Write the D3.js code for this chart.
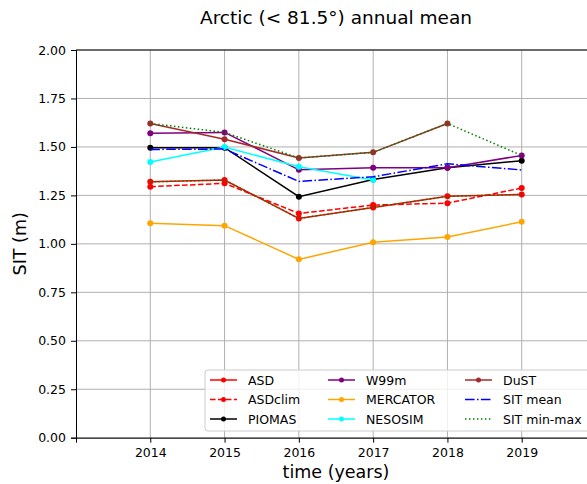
<!DOCTYPE html>
<html><head><meta charset="utf-8">
<script src="https://cdn.jsdelivr.net/npm/d3@7"></script>
<style>body{margin:0;background:#fff}svg{display:block;font-family:"DejaVu Sans",sans-serif}</style>
</head><body><svg id="c" width="587" height="484"></svg>
<script>
const years = [2014, 2015, 2016, 2017, 2018, 2019];
const yTicks = [0, 0.25, 0.5, 0.75, 1.0, 1.25, 1.5, 1.75, 2.0];
const ASD      = [1.320, 1.329, 1.131, 1.188, 1.245, 1.255];
const ASDclim  = [1.295, 1.312, 1.157, 1.200, 1.210, 1.288];
const PIOMAS   = [1.496, 1.496, 1.243, 1.332, 1.393, 1.429];
const W99m     = [1.571, 1.575, 1.382, 1.393, 1.393, 1.456];
const MERCATOR = [1.106, 1.094, 0.920, 1.008, 1.035, 1.114];
const NESOSIM  = [1.422, 1.499, 1.398, 1.329, null, null];
const DuST     = [1.621, 1.540, 1.443, 1.472, 1.621, null];
const SITmean  = [1.487, 1.489, 1.322, 1.346, 1.413, 1.381];
const SITmax   = [1.621, 1.575, 1.443, 1.472, 1.621, 1.456];
const SITmin   = [1.320, 1.329, 1.131, 1.188, 1.245, 1.255];

const series = [
  {name:"ASD", vals:ASD, color:"red", dash:null, marker:true},
  {name:"ASDclim", vals:ASDclim, color:"red", dash:"5.55,2.4", marker:true},
  {name:"PIOMAS", vals:PIOMAS, color:"black", dash:null, marker:true},
  {name:"W99m", vals:W99m, color:"purple", dash:null, marker:true},
  {name:"MERCATOR", vals:MERCATOR, color:"orange", dash:null, marker:true},
  {name:"NESOSIM", vals:NESOSIM, color:"cyan", dash:null, marker:true},
  {name:"DuST", vals:DuST, color:"brown", dash:null, marker:true},
  {name:"SIT mean", vals:SITmean, color:"blue", dash:"9.6,2.4,1.5,2.4", marker:false},
  {name:"SIT min-max", vals:SITmax, color:"green", dash:"1.5,2.475", marker:false},
];
const extra = {vals:SITmin, color:"green", dash:"1.5,2.475"};

const svg = d3.select("#c");
const L = 76, R = 596, T = 50, B = 437.7;
const x = d3.scaleLinear().domain([2013, 2020]).range([L, R]);
const y = d3.scaleLinear().domain([0, 2]).range([B, T]);

// grid
const g = svg.append("g");
g.selectAll(".gx").data(years).join("line")
  .attr("x1", d=>x(d)).attr("x2", d=>x(d)).attr("y1", T).attr("y2", B)
  .attr("stroke", "#b0b0b0").attr("stroke-width", 1);
g.selectAll(".gy").data(yTicks).join("line")
  .attr("x1", L).attr("x2", R).attr("y1", d=>y(d)).attr("y2", d=>y(d))
  .attr("stroke", "#b0b0b0").attr("stroke-width", 1);

// series
const line = d3.line().defined(d=>d.v!=null).x(d=>x(d.x)).y(d=>y(d.v));
function draw(s){
  const pts = years.map((yr,i)=>({x:yr, v:s.vals[i]}));
  svg.append("path").datum(pts).attr("d", line).attr("fill","none")
    .attr("stroke", s.color).attr("stroke-width", 1.5)
    .attr("stroke-dasharray", s.dash);
  if (s.marker) {
    svg.append("g").selectAll("circle").data(pts.filter(d=>d.v!=null)).join("circle")
      .attr("cx", d=>x(d.x)).attr("cy", d=>y(d.v)).attr("r", 3).attr("fill", s.color);
  }
}
series.slice(0,8).forEach(draw);
draw(series[8]);
draw(extra);

// axes
const xa = svg.append("g").attr("transform", `translate(0,${B})`)
  .call(d3.axisBottom(x).tickValues(years).tickFormat(d3.format("d")).tickSizeOuter(0).tickSize(5).tickPadding(5));
const ya = svg.append("g").attr("transform", `translate(${L},0)`)
  .call(d3.axisLeft(y).tickValues(yTicks).tickFormat(d3.format(".2f")).tickSizeOuter(0).tickSize(5).tickPadding(5));
[xa, ya].forEach(a=>{
  a.selectAll("text").attr("font-size", 12.5).attr("fill","#000").attr("font-family","DejaVu Sans");
  a.selectAll("line").attr("stroke","#000").attr("stroke-width",1);
  a.select(".domain").attr("stroke","#000").attr("stroke-width",1);
});
svg.append("line").attr("x1", L).attr("x2", R).attr("y1", T).attr("y2", T).attr("stroke","#000").attr("stroke-width",1);

// labels
svg.append("text").attr("x", 336).attr("y", 24).attr("text-anchor","middle").attr("font-size", 18.5).text("Arctic (< 81.5°) annual mean");
svg.append("text").attr("x", 336).attr("y", 478).attr("text-anchor","middle").attr("font-size", 17.5).text("time (years)");
svg.append("text").attr("transform", `translate(26,${(T+B)/2}) rotate(-90)`).attr("text-anchor","middle").attr("font-size", 17.5).text("SIT (m)");

// legend
const lg = svg.append("g");
lg.append("rect").attr("x", 205).attr("y", 370).attr("width", 395).attr("height", 61)
  .attr("rx", 3).attr("fill", "rgba(255,255,255,0.8)").attr("stroke", "#cccccc").attr("stroke-width", 1);
const colX = [210, 328, 465], rowY = [380, 399.5, 419];
series.forEach((s,i)=>{
  const cx = colX[Math.floor(i/3)], cy = rowY[i%3];
  lg.append("line").attr("x1", cx).attr("x2", cx+27).attr("y1", cy).attr("y2", cy)
    .attr("stroke", s.color).attr("stroke-width", 1.5).attr("stroke-dasharray", s.dash);
  if (s.marker) lg.append("circle").attr("cx", cx+13.5).attr("cy", cy).attr("r", 2.5).attr("fill", s.color);
  lg.append("text").attr("x", cx+38).attr("y", cy+4.5).attr("font-size", 12.5).text(s.name);
});
</script></body></html>
